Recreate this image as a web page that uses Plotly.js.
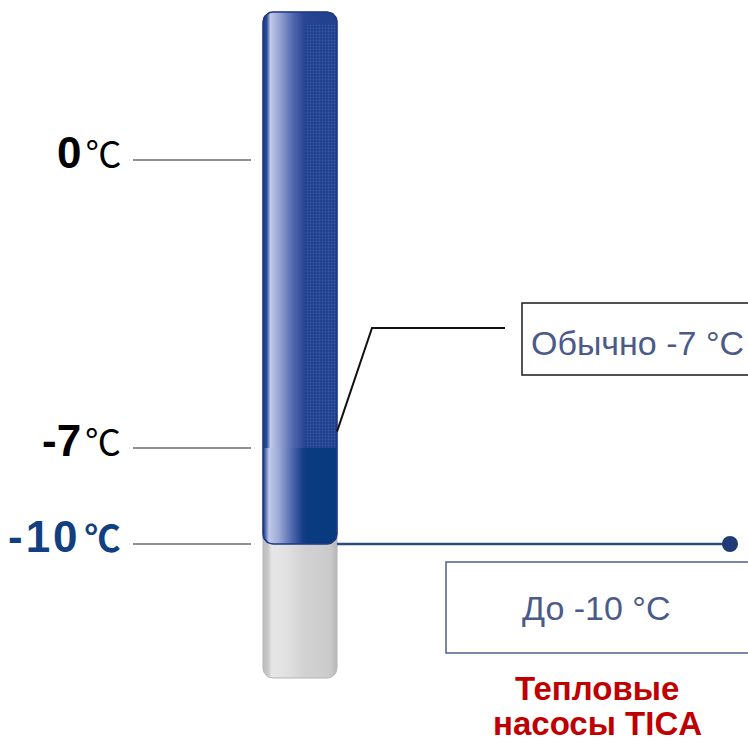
<!DOCTYPE html>
<html><head><meta charset="utf-8">
<script src="https://cdn.plot.ly/plotly-3.0.1.min.js"></script>
<style>html,body{margin:0;padding:0;background:#fff}</style>
</head><body><div id="chart" style="width:748px;height:741px"></div>
<script>
// ---- data ----
const levels = [0, -7, -10];
const levelLabels = ['0', '-7', '-10'];
const unitLabel = '℃';
const usualTemp = -7;
const minTemp = -10;
const usualText = 'Обычно -7 °C';
const minText = 'До -10 °C';
const brandLines = ['Тепловые', 'насосы TICA'];

// ---- infographic scale (piecewise spacing, as in the original) ----
function pos(t){ return t >= -7 ? t*3/7 : -3 + (t+7)/3; }
const PX = 96;                       // pixels per scale unit
function py(p){ return (160 - p)/PX; } // layout helper: pixel row -> scale

const TX0 = 263, TX1 = 337, R = 10;
const tubeTop = py(12), tubeBot = py(678);

function rr(x0,x1,yT,yB,rt,rb){
  const X=[],Y=[];
  const arc=(cx,cy,r,a0,a1)=>{for(let i=0;i<=10;i++){const a=(a0+(a1-a0)*i/10)*Math.PI/180;X.push(cx+r*Math.cos(a));Y.push(cy+r/PX*Math.sin(a));}};
  if(rt>0){arc(x0+rt,yT-rt/PX,rt,180,90);arc(x1-rt,yT-rt/PX,rt,90,0);} else {X.push(x0,x1);Y.push(yT,yT);}
  if(rb>0){arc(x1-rb,yB+rb/PX,rb,0,-90);arc(x0+rb,yB+rb/PX,rb,-90,-180);} else {X.push(x1,x0);Y.push(yB,yB);}
  X.push(X[0]);Y.push(Y[0]);
  return {X,Y};
}

const traces = [];
// grey tube body
const g = rr(TX0,TX1,tubeTop,tubeBot,R,R);
traces.push({type:'scatter',mode:'lines',x:g.X,y:g.Y,fill:'toself',hoverinfo:'skip',
  line:{color:'#b4b4b4',width:1},
  fillgradient:{type:'horizontal',colorscale:[[0,'#bdbdbd'],[0.06,'#c6c6c6'],[0.12,'#e6e6e6'],[0.3,'#e2e2e2'],[0.55,'#d2d2d2'],[0.9,'#cbcbcb'],[1,'#b8b8b8']]}});
// blue filled part down to min temperature
const b = rr(TX0,TX1,tubeTop,pos(minTemp),R,R);
traces.push({type:'scatter',mode:'lines',x:b.X,y:b.Y,fill:'toself',hoverinfo:'skip',
  line:{color:'#1b3784',width:1.5},
  fillgradient:{type:'horizontal',colorscale:[[0,'#1c3886'],[0.05,'#2a4896'],[0.1,'#c0c9e8'],[0.2,'#9dabd7'],[0.4,'#5369b1'],[0.55,'#2a4794'],[0.7,'#24428f'],[1,'#21408d']]}});
// textured right side (above usual level)
traces.push({type:'scatter',mode:'lines',x:[305,TX1-1.5,TX1-1.5,305,305],y:[tubeTop-0.12,tubeTop-0.12,pos(usualTemp),pos(usualTemp),tubeTop-0.12],
  fill:'toself',hoverinfo:'skip',line:{width:0,color:'rgba(0,0,0,0)'},
  fillpattern:{shape:'.',fgcolor:'#3a5aa3',bgcolor:'#1f3e8c',size:3,solidity:0.3}});
// dark band between usual and min temperature
const d = rr(TX0+1,TX1-1,pos(usualTemp),pos(minTemp)+0.01,0,R-1);
traces.push({type:'scatter',mode:'lines',x:d.X,y:d.Y,fill:'toself',hoverinfo:'skip',
  line:{width:0,color:'rgba(0,0,0,0)'},
  fillgradient:{type:'horizontal',colorscale:[[0,'#2a4896'],[0.07,'#c0c9e8'],[0.2,'#9dabd7'],[0.4,'#4c64ab'],[0.55,'#113c85'],[0.62,'#0a3a80'],[1,'#083a80']]}});
// tick lines
const tx=[],ty=[];
levels.forEach(l=>{tx.push(133,251,null);ty.push(pos(l),pos(l),null);});
traces.push({type:'scatter',mode:'lines',x:tx,y:ty,hoverinfo:'skip',line:{color:'#6a6a6a',width:1.5}});
// min temperature line with dot
traces.push({type:'scatter',mode:'lines',x:[TX1,730],y:[pos(minTemp),pos(minTemp)],hoverinfo:'skip',
  line:{color:'#2f4a80',width:2.5}});
traces.push({type:'scatter',mode:'markers',x:[730],y:[pos(minTemp)],hoverinfo:'skip',
  marker:{size:16,color:'#1f3a74',opacity:1,line:{width:0}}});
// usual temperature leader
traces.push({type:'scatter',mode:'lines',x:[TX1,372,505],y:[pos(usualTemp)+0.17,py(328),py(328)],hoverinfo:'skip',
  line:{color:'#111',width:2}});

const annotations = levels.map((l,i)=>{
  const isMin = l===minTemp;
  const num = isMin
    ? `<span style="letter-spacing:3px">${levelLabels[i]}</span>`
    : `<b>${levelLabels[i]}</b>`;
  return {
    x:123,y:pos(l),xref:'x',yref:'y',xanchor:'right',yanchor:'middle',yshift:8,showarrow:false,
    text:`${num}<span style="font-size:14px"> </span><span style="font-family:'Noto Sans CJK SC';font-size:36px">${unitLabel}</span>`,
    font:{family:'Liberation Sans, Arial, sans-serif',size:44,color:isMin?'#123f82':'#000',weight:isMin?600:400}
  };
});
annotations.push({x:529,y:py(343),xref:'x',yref:'y',xanchor:'left',yanchor:'middle',showarrow:false,
  text:usualText,font:{family:'Liberation Sans, Arial, sans-serif',size:34,color:'#4b5a88'}});
annotations.push({x:596,y:py(608),xref:'x',yref:'y',xanchor:'center',yanchor:'middle',showarrow:false,
  text:minText,font:{family:'Liberation Sans, Arial, sans-serif',size:34,color:'#4b5a88'}});
brandLines.forEach((s,i)=>annotations.push({x:597,y:py(688+35*i),xref:'x',yref:'y',xanchor:'center',yanchor:'middle',showarrow:false,
  text:'<b>'+s+'</b>',font:{family:'Liberation Sans, Arial, sans-serif',size:33,color:'#c00000'}}));

const layout = {
  width:748,height:741,margin:{l:0,r:0,t:0,b:0},
  paper_bgcolor:'#fff',plot_bgcolor:'#fff',showlegend:false,
  xaxis:{range:[0,748],visible:false,fixedrange:true},
  yaxis:{range:[py(741),py(0)],visible:false,fixedrange:true},
  shapes:[
    {type:'rect',xref:'x',yref:'y',x0:522,x1:770,y0:py(375),y1:py(303),line:{color:'#1a1a1a',width:1.5}},
    {type:'rect',xref:'x',yref:'y',x0:446,x1:770,y0:py(653),y1:py(562),line:{color:'#4f5f8f',width:1.5}}
  ],
  annotations
};
Plotly.newPlot('chart',traces,layout,{displayModeBar:false,staticPlot:true});
</script></body></html>
